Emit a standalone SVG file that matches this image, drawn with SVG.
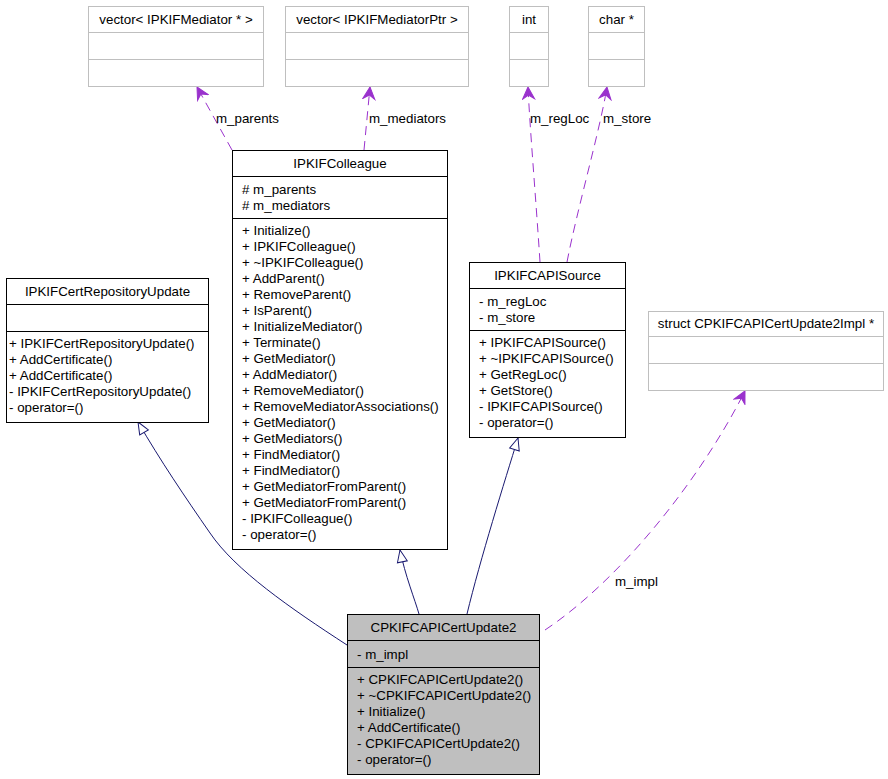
<svg xmlns="http://www.w3.org/2000/svg" width="888" height="779" viewBox="0 0 888 779">
<style>
text{font-family:"Liberation Sans",Arial,sans-serif;font-size:13.33px;fill:#000}
.c{text-anchor:middle}
.box{fill:#fff;stroke:#000;stroke-width:1}
.gbox{fill:#fff;stroke:#bfbfbf;stroke-width:1}
.sel{fill:#bfbfbf;stroke:#000;stroke-width:1}
.sep{stroke:#000;stroke-width:1}
.gsep{stroke:#bfbfbf;stroke-width:1}
.inh{fill:none;stroke:#191970;stroke-width:1;marker-end:url(#tri)}
.use{fill:none;stroke:#9a32cd;stroke-width:1;stroke-dasharray:9,6;marker-end:url(#vee)}
</style>
<defs>
<marker id="tri" markerUnits="userSpaceOnUse" viewBox="-13 -7 14 14" refX="0" refY="0" markerWidth="14" markerHeight="14" orient="auto">
<path d="M0,0 L-12,-5 L-12,5 Z" fill="#fff" stroke="#191970" stroke-width="1"/>
</marker>
<marker id="vee" markerUnits="userSpaceOnUse" viewBox="-13 -7 14 14" refX="0" refY="0" markerWidth="14" markerHeight="14" orient="auto">
<path d="M0,0 L-12,-6 L-8,0 L-12,6 Z" fill="#9a32cd" stroke="#9a32cd" stroke-width="1"/>
</marker>
</defs>
<rect width="888" height="779" fill="#fff"/>

<g id="connectors">
<path class="use" d="M232,150 L197,87"/>
<text x="216" y="123">m_parents</text>
<path class="use" d="M364,150 L370,87"/>
<text x="369" y="123">m_mediators</text>
<path class="use" d="M540,262 C536,200 530,130 528,87"/>
<text x="530" y="123">m_regLoc</text>
<path class="use" d="M567,262 C577,210 600,130 607,87"/>
<text x="603" y="123">m_store</text>
<path class="use" d="M545,630 C620,580 700,480 745,391"/>
<text x="615" y="586">m_impl</text>
<path class="inh" d="M347,645 C290,608 235,570 210,533 C185,497 160,460 138,422"/>
<path class="inh" d="M419,614 C415,600 405,575 400,550"/>
<path class="inh" d="M467,614 C480,560 505,480 518,438"/>
</g>

<g id="vecMediator">
<rect class="gbox" x="88.5" y="6.5" width="175" height="80"/>
<line class="gsep" x1="88.5" y1="32.5" x2="263.5" y2="32.5"/>
<line class="gsep" x1="88.5" y1="59.5" x2="263.5" y2="59.5"/>
<text class="c" x="176" y="24">vector&lt; IPKIFMediator * &gt;</text>
</g>

<g id="vecMediatorPtr">
<rect class="gbox" x="285.5" y="6.5" width="183" height="80"/>
<line class="gsep" x1="285.5" y1="32.5" x2="468.5" y2="32.5"/>
<line class="gsep" x1="285.5" y1="59.5" x2="468.5" y2="59.5"/>
<text class="c" x="377" y="24">vector&lt; IPKIFMediatorPtr &gt;</text>
</g>

<g id="int">
<rect class="gbox" x="509.5" y="6.5" width="39" height="80"/>
<line class="gsep" x1="509.5" y1="32.5" x2="548.5" y2="32.5"/>
<line class="gsep" x1="509.5" y1="59.5" x2="548.5" y2="59.5"/>
<text class="c" x="529" y="24">int</text>
</g>

<g id="charptr">
<rect class="gbox" x="588.5" y="6.5" width="56" height="80"/>
<line class="gsep" x1="588.5" y1="32.5" x2="644.5" y2="32.5"/>
<line class="gsep" x1="588.5" y1="59.5" x2="644.5" y2="59.5"/>
<text class="c" x="616.5" y="24">char *</text>
</g>

<g id="IPKIFColleague">
<rect class="box" x="232.5" y="150.5" width="215" height="399"/>
<line class="sep" x1="232.5" y1="176.5" x2="447.5" y2="176.5"/>
<line class="sep" x1="232.5" y1="218.5" x2="447.5" y2="218.5"/>
<text class="c" x="340" y="168">IPKIFColleague</text>
<text x="242" y="194"># m_parents</text>
<text x="242" y="210"># m_mediators</text>
<text x="242" y="235">+ Initialize()</text>
<text x="242" y="251">+ IPKIFColleague()</text>
<text x="242" y="267">+ ~IPKIFColleague()</text>
<text x="242" y="283">+ AddParent()</text>
<text x="242" y="299">+ RemoveParent()</text>
<text x="242" y="315">+ IsParent()</text>
<text x="242" y="331">+ InitializeMediator()</text>
<text x="242" y="347">+ Terminate()</text>
<text x="242" y="363">+ GetMediator()</text>
<text x="242" y="379">+ AddMediator()</text>
<text x="242" y="395">+ RemoveMediator()</text>
<text x="242" y="411">+ RemoveMediatorAssociations()</text>
<text x="242" y="427">+ GetMediator()</text>
<text x="242" y="443">+ GetMediators()</text>
<text x="242" y="459">+ FindMediator()</text>
<text x="242" y="475">+ FindMediator()</text>
<text x="242" y="491">+ GetMediatorFromParent()</text>
<text x="242" y="507">+ GetMediatorFromParent()</text>
<text x="242" y="523">- IPKIFColleague()</text>
<text x="242" y="539">- operator=()</text>
</g>

<g id="IPKIFCertRepositoryUpdate">
<rect class="box" x="6.5" y="278.5" width="202" height="144"/>
<line class="sep" x1="6.5" y1="304.5" x2="208.5" y2="304.5"/>
<line class="sep" x1="6.5" y1="331.5" x2="208.5" y2="331.5"/>
<text class="c" x="107.5" y="296">IPKIFCertRepositoryUpdate</text>
<text x="9" y="348">+ IPKIFCertRepositoryUpdate()</text>
<text x="9" y="364">+ AddCertificate()</text>
<text x="9" y="380">+ AddCertificate()</text>
<text x="9" y="396">- IPKIFCertRepositoryUpdate()</text>
<text x="9" y="412">- operator=()</text>
</g>

<g id="IPKIFCAPISource">
<rect class="box" x="469.5" y="262.5" width="156" height="175"/>
<line class="sep" x1="469.5" y1="288.5" x2="625.5" y2="288.5"/>
<line class="sep" x1="469.5" y1="330.5" x2="625.5" y2="330.5"/>
<text class="c" x="547.5" y="280">IPKIFCAPISource</text>
<text x="479" y="306">- m_regLoc</text>
<text x="479" y="322">- m_store</text>
<text x="479" y="347">+ IPKIFCAPISource()</text>
<text x="479" y="363">+ ~IPKIFCAPISource()</text>
<text x="479" y="379">+ GetRegLoc()</text>
<text x="479" y="395">+ GetStore()</text>
<text x="479" y="411">- IPKIFCAPISource()</text>
<text x="479" y="427">- operator=()</text>
</g>

<g id="CPKIFCAPICertUpdate2Impl">
<rect class="gbox" x="648.5" y="311.5" width="235" height="79"/>
<line class="gsep" x1="648.5" y1="336.5" x2="883.5" y2="336.5"/>
<line class="gsep" x1="648.5" y1="363.5" x2="883.5" y2="363.5"/>
<text class="c" x="766" y="328">struct CPKIFCAPICertUpdate2Impl *</text>
</g>

<g id="CPKIFCAPICertUpdate2">
<rect class="sel" x="347.5" y="614.5" width="192" height="160"/>
<line class="sep" x1="347.5" y1="640.5" x2="539.5" y2="640.5"/>
<line class="sep" x1="347.5" y1="667.5" x2="539.5" y2="667.5"/>
<text class="c" x="443.5" y="632">CPKIFCAPICertUpdate2</text>
<text x="357" y="659">- m_impl</text>
<text x="357" y="684">+ CPKIFCAPICertUpdate2()</text>
<text x="357" y="700">+ ~CPKIFCAPICertUpdate2()</text>
<text x="357" y="716">+ Initialize()</text>
<text x="357" y="732">+ AddCertificate()</text>
<text x="357" y="748">- CPKIFCAPICertUpdate2()</text>
<text x="357" y="764">- operator=()</text>
</g>
</svg>
